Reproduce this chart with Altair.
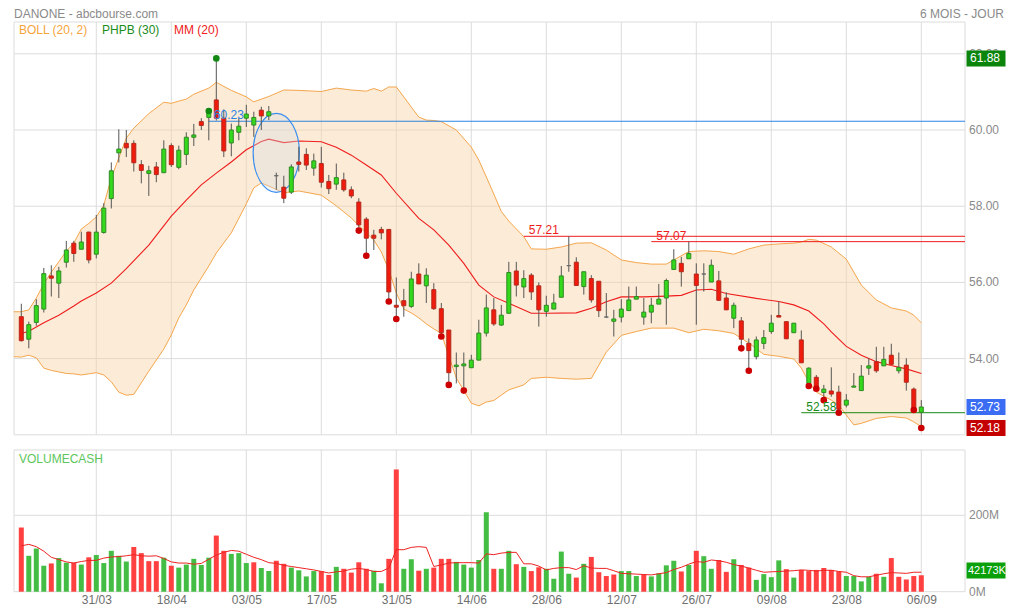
import altair as alt
import pandas as pd

FONT = "Liberation Sans"
W, H = 951, 570
XDOM = [-0.973, 125.827]
PDOM = [47.874, 62.835]
VDOM = [-0.785, 1491.4]
PRICE_PANEL = [52.0, 62.835]
VOL_PANEL = [0.0, 371.0]

TICK_IDX = [10, 20, 30, 40, 50, 60, 70, 80, 90, 100, 110, 120]
TICK_LABELS = ["31/03", "18/04", "03/05", "17/05", "31/05", "14/06",
               "28/06", "12/07", "26/07", "09/08", "23/08", "06/09"]
PRICE_TICKS = [54, 56, 58, 60, 62]
PRICE_GRID = [54, 56, 58, 60, 62]
VOL_TICKS = [0, 200]
VOL_GRID = [200]

OPEN = [55.10, 54.51, 54.95, 55.30, 56.17, 55.98, 56.53, 57.03, 56.87, 57.32,
        56.74, 57.31, 58.20, 59.40, 59.65, 59.65, 59.09, 58.86, 59.03, 58.88,
        59.59, 59.02, 59.36, 59.81, 60.22, 60.33, 60.79, 60.31, 59.66, 59.94,
        60.31, 60.13, 60.52, 60.37, 58.80, 58.50, 58.37, 59.16, 59.36, 59.00,
        59.12, 58.65, 58.58, 58.69, 58.43, 58.11, 57.66, 57.24, 57.39, 57.39,
        55.40, 55.52, 55.37, 56.22, 55.91, 55.81, 55.31, 54.75, 53.79, 53.81,
        53.76, 53.96, 54.67, 55.28, 54.88, 55.19, 56.30, 55.88, 56.19, 55.91,
        55.24, 55.30, 55.61, 56.44, 56.53, 55.89, 56.10, 56.03, 55.09, 54.98,
        55.09, 55.26, 55.56, 55.09, 55.22, 55.43, 55.59, 56.34, 56.50, 56.62,
        56.22, 56.22, 56.01, 56.04, 55.59, 55.06, 54.99, 54.40, 54.05, 54.40,
        54.71, 55.13, 54.97, 54.68, 54.49, 53.35, 53.51, 53.11, 53.15, 53.12,
        52.78, 53.25, 53.16, 53.75, 53.92, 53.81, 54.09, 53.68, 53.83, 53.20,
        52.59]
HIGH = [55.44, 54.97, 55.56, 56.38, 56.45, 56.41, 57.09, 57.09, 57.33, 57.33,
        57.77, 58.08, 59.15, 60.02, 60.00, 59.73, 59.21, 59.06, 59.16, 59.73,
        59.65, 59.59, 59.94, 60.16, 60.31, 60.50, 61.88, 60.54, 60.17, 60.31,
        60.66, 60.48, 60.61, 60.63, 58.88, 58.80, 59.10, 59.56, 59.52, 59.38,
        59.56, 58.82, 59.12, 58.88, 58.52, 58.21, 57.71, 57.38, 57.46, 57.39,
        56.13, 55.83, 56.28, 56.50, 56.37, 55.98, 55.46, 54.75, 54.16, 54.16,
        54.10, 55.02, 55.68, 55.59, 55.41, 56.54, 56.54, 56.32, 56.24, 56.00,
        55.65, 55.70, 56.43, 57.21, 56.66, 56.28, 56.19, 56.03, 55.72, 55.28,
        55.56, 55.89, 55.89, 55.59, 55.59, 55.96, 56.10, 56.87, 56.67, 57.07,
        56.50, 56.50, 56.60, 56.30, 55.74, 55.47, 55.09, 54.53, 54.58, 54.75,
        55.15, 55.50, 54.97, 54.93, 54.74, 53.77, 53.57, 53.31, 53.77, 53.29,
        53.07, 53.62, 53.83, 54.01, 54.31, 54.31, 54.39, 54.16, 54.01, 53.24,
        52.91]
LOW = [54.45, 54.27, 54.86, 55.21, 55.63, 55.59, 56.39, 56.54, 56.87, 56.50,
       56.63, 57.28, 57.94, 59.15, 59.29, 58.91, 58.60, 58.27, 58.63, 58.87,
       59.03, 58.97, 59.08, 59.58, 60.00, 59.73, 60.25, 59.29, 59.31, 59.73,
       60.08, 59.82, 60.00, 60.26, 58.43, 58.08, 58.32, 58.91, 58.95, 58.80,
       58.49, 58.32, 58.43, 58.38, 58.21, 57.36, 56.70, 56.85, 57.13, 55.50,
       55.04, 55.10, 55.33, 55.96, 55.46, 55.28, 54.58, 53.31, 53.35, 53.16,
       53.76, 53.96, 54.58, 54.86, 54.86, 55.19, 55.63, 55.59, 55.54, 54.84,
       55.10, 55.30, 55.61, 56.28, 55.92, 55.68, 55.47, 55.09, 55.07, 54.58,
       54.95, 55.26, 55.56, 54.89, 54.93, 55.43, 54.89, 56.34, 55.89, 56.62,
       54.89, 55.76, 56.01, 55.53, 55.28, 54.80, 54.27, 53.68, 53.98, 54.25,
       54.65, 55.09, 54.52, 54.68, 53.89, 53.28, 53.21, 52.91, 53.00, 52.58,
       52.72, 53.25, 53.16, 53.57, 53.63, 53.81, 53.85, 53.61, 53.16, 52.65,
       52.18]
CLOSE = [54.47, 54.89, 55.39, 56.23, 56.11, 56.30, 56.85, 56.76, 57.06, 56.59,
         57.32, 57.95, 58.93, 59.50, 59.53, 59.14, 58.94, 58.93, 58.83, 59.50,
         59.09, 59.47, 59.81, 59.87, 60.12, 60.48, 60.31, 59.45, 60.00, 60.10,
         60.42, 60.33, 60.37, 60.48, 58.80, 58.21, 59.03, 59.10, 59.08, 59.19,
         58.63, 58.46, 58.75, 58.43, 58.27, 57.51, 57.16, 57.16, 57.30, 55.75,
         55.35, 55.39, 56.09, 55.96, 56.19, 55.31, 54.68, 53.63, 53.83, 53.86,
         53.96, 54.67, 55.33, 54.91, 55.14, 56.26, 55.93, 56.10, 55.75, 55.28,
         55.40, 55.46, 56.17, 56.44, 55.92, 56.28, 55.54, 55.26, 55.09, 55.04,
         55.30, 55.54, 55.63, 55.22, 55.40, 55.56, 56.05, 56.59, 56.28, 56.76,
         55.92, 56.22, 56.45, 55.53, 55.28, 55.40, 54.51, 54.21, 54.49, 54.55,
         54.93, 55.09, 54.52, 54.93, 53.89, 53.75, 53.22, 53.20, 53.07, 52.67,
         52.91, 53.28, 53.54, 53.81, 53.68, 53.98, 53.85, 53.77, 53.38, 52.69,
         52.73]

VOLUME_M = [168, 94, 113, 68, 74, 88, 76, 76, 71, 90,
            96, 75, 107, 94, 79, 117, 101, 80, 80, 89,
            68, 63, 71, 86, 70, 89, 147, 107, 99, 101,
            75, 77, 62, 54, 81, 73, 63, 56, 40, 54,
            54, 44, 65, 60, 50, 77, 60, 55, 22, 86,
            320, 60, 85, 55, 60, 63, 86, 86, 78, 71,
            63, 83, 208, 60, 60, 107, 72, 65, 54, 64,
            60, 34, 105, 47, 37, 73, 91, 51, 41, 45,
            54, 54, 41, 45, 40, 48, 69, 81, 53, 70,
            107, 93, 60, 83, 52, 85, 70, 63, 31, 46,
            38, 82, 59, 37, 57, 54, 57, 62, 57, 53,
            41, 41, 27, 39, 47, 39, 88, 39, 32, 41,
            43]
VOL_DIR = ("RGGGRGGRGR" "GGGGGRRRRG" "RGGGGGRRGG" "GRGGRRGGGG" "RRGRRRRGGR"
           "RGGRGRRRGG" "GGGRGGRGRR" "GGGGRGRRRR" "GGGRGGGGRG" "RGGRRGRRGG"
           "GGRGRRRRRR" "GGGGRGRRRR" "R")
VOLMA_M = [120, 124, 118, 106, 90, 84, 78, 75, 79, 82,
           82, 88, 91, 92, 94, 97, 94, 93, 94, 87,
           78, 75, 75, 72, 74, 85, 96, 103, 108, 106,
           98, 90, 84, 76, 74, 69, 66, 63, 60, 57,
           53, 49, 52, 54, 59, 61, 58, 53, 53, 62,
           110, 110, 116, 118, 116, 66, 70, 75, 76, 76,
           76, 75, 99, 97, 101, 103, 103, 73, 73, 67,
           57, 61, 63, 63, 58, 68, 62, 61, 61, 55,
           48, 47, 46, 45, 44, 47, 50, 58, 64, 72,
           79, 77, 83, 81, 77, 71, 67, 62, 56, 51,
           52, 53, 54, 55, 57, 56, 54, 56, 56, 53,
           51, 42, 39, 39, 43, 47, 50, 49, 48, 51,
           51]

BB_IDX = [-1, 0, 1, 2, 3, 4, 5, 6, 7, 8, 9, 10, 11, 12, 13, 14, 15, 17, 19, 20,
          21, 22, 23, 25, 26, 28, 30, 31, 32, 33, 35, 37, 40, 42, 44, 46, 47, 48, 49, 50,
          51, 52, 53, 54, 55, 56, 58, 60, 61, 62, 63, 64, 65, 67, 68, 70, 72, 74, 76, 78,
          80, 82, 84, 86, 87, 89, 91, 93, 95, 97, 99, 101, 103, 104, 105, 106, 108, 109, 110, 111,
          112, 114, 116, 118, 119, 120]
BB_UPPER = [55.23, 55.23, 55.28, 55.59, 55.96, 56.27, 56.54, 56.82, 57.03, 57.40,
            57.55, 57.72, 58.03, 58.74, 59.27, 59.79, 60.05, 60.43, 60.73, 60.70,
            60.76, 60.81, 60.94, 61.10, 61.25, 61.04, 60.87, 60.74, 60.81, 60.88,
            61.05, 61.04, 61.01, 61.10, 61.05, 61.02, 61.09, 61.02, 61.13, 61.13,
            60.87, 60.60, 60.34, 60.26, 60.25, 60.22, 60.00, 59.55, 59.21, 58.77,
            58.32, 57.86, 57.61, 57.20, 56.88, 56.87, 56.93, 57.03, 57.04, 56.85,
            56.59, 56.52, 56.48, 56.48, 56.59, 56.81, 56.83, 56.81, 56.74, 56.88,
            56.98, 57.01, 57.03, 57.06, 57.13, 57.11, 56.93, 56.77, 56.61, 56.27,
            55.93, 55.54, 55.33, 55.25, 55.14, 54.94]
BB_LOWER = [54.05, 54.04, 54.09, 54.02, 53.75, 53.69, 53.65, 53.61, 53.60, 53.57,
            53.60, 53.63, 53.57, 53.39, 53.12, 53.04, 53.06, 53.67, 54.25, 54.62,
            55.07, 55.41, 55.80, 56.43, 56.77, 57.30, 58.06, 58.48, 58.61, 58.53,
            58.35, 58.40, 58.29, 58.01, 57.69, 57.30, 57.11, 56.80, 56.33, 55.72,
            55.30, 55.20, 55.07, 54.91, 54.78, 54.66, 53.49, 52.83, 52.76, 52.86,
            52.90, 53.04, 53.18, 53.31, 53.48, 53.51, 53.48, 53.46, 53.48, 54.17,
            54.61, 54.71, 54.80, 54.80, 54.80, 54.68, 54.77, 54.73, 54.66, 54.41,
            54.11, 54.06, 53.99, 53.75, 53.39, 53.12, 52.91, 52.78, 52.52, 52.26,
            52.30, 52.43, 52.48, 52.44, 52.34, 52.21]

MM_IDX = [0, 1, 3, 5, 7, 8, 10, 12, 14, 17, 20, 22, 24, 26, 28, 30, 32, 33, 35, 37,
          40, 42, 44, 46, 48, 50, 53, 55, 57, 59, 61, 63, 65, 68, 70, 74, 76, 78, 80, 83,
          86, 88, 90, 92, 94, 98, 101, 103, 105, 107, 108, 110, 112, 114, 116, 118, 120]
MM_VAL = [54.66, 54.72, 54.94, 55.14, 55.38, 55.51, 55.72, 55.98, 56.36, 56.98,
          57.74, 58.16, 58.56, 58.87, 59.16, 59.48, 59.70, 59.76, 59.67, 59.71,
          59.69, 59.55, 59.34, 59.08, 58.82, 58.34, 57.68, 57.38, 56.98, 56.50,
          55.93, 55.62, 55.45, 55.19, 55.19, 55.20, 55.32, 55.49, 55.62, 55.62,
          55.64, 55.66, 55.80, 55.82, 55.71, 55.58, 55.50, 55.41, 55.25, 54.91,
          54.70, 54.32, 54.09, 53.92, 53.82, 53.73, 53.61]

LOW_DOTS = [45, 46, 49, 50, 56, 57, 59, 96, 97, 105, 106, 107, 109, 119, 120]
HIGH_DOTS = [25, 26]

LEVEL_VALUES = [60.23, 57.21, 57.07, 52.58]
LEVEL_START = [25, 67, 84, 104]
LEVEL_COLORS = ["#2b84e2", "#ee1c1c", "#ee1c1c", "#178a17"]

PRICE_TAGS = [61.88, 52.73, 52.18]
PRICE_TAG_COLORS = ["#0b840b", "#3a6cf4", "#c40000"]
VOL_TAG = 42.173
VOL_TAG_TEXT = "42173K"

ELLIPSE_AT = [34, 59.40]

GRID = "#dcdcdc"
AXIS_TEXT = "#8a8a8a"
ELLIPSE_PATH = "M-0.586,0A0.586,1,0,1,0,0.586,0A0.586,1,0,1,0,-0.586,0Z"
TAG_PATH = "M-1,-0.41L1,-0.41L1,0.41L-1,0.41Z"
TAG_SIZE = 39 * 39
TAG_CENTER = W + 21
RIGHT_PAD = 41

# ---------------- data frames ----------------
n = len(OPEN)
candles = pd.DataFrame({"i": list(range(n)), "o": OPEN, "h": HIGH, "l": LOW, "c": CLOSE})
fills, strokes = [], []
for o, c in zip(OPEN, CLOSE):
    if c > o:
        fills.append("#33d91a"); strokes.append("#2f8a25")
    elif c < o:
        fills.append("#f01b0c"); strokes.append("#b3281c")
    else:
        fills.append("#6a6a6a"); strokes.append("#6a6a6a")
candles["fill"] = fills
candles["stroke"] = strokes

vol = pd.DataFrame({"i": list(range(n)), "v": VOLUME_M, "zero": [0] * n,
                    "color": ["#43bd43" if d == "G" else "#ff4040" for d in VOL_DIR]})
volma = pd.DataFrame({"i": list(range(n)), "v": VOLMA_M})
bands = pd.DataFrame({"i": BB_IDX, "up": BB_UPPER, "lo": BB_LOWER})
mm = pd.DataFrame({"i": MM_IDX, "v": MM_VAL})
dots = pd.DataFrame({
    "i": LOW_DOTS + HIGH_DOTS,
    "p": [LOW[k] for k in LOW_DOTS] + [HIGH[k] for k in HIGH_DOTS],
    "color": ["#cc0000"] * len(LOW_DOTS) + ["#118811"] * len(HIGH_DOTS),
})
levels = pd.DataFrame({"start": LEVEL_START, "end": [XDOM[1]] * len(LEVEL_START),
                       "v": LEVEL_VALUES, "color": LEVEL_COLORS,
                       "label": [f"{v:.2f}" for v in LEVEL_VALUES]})
tags = pd.DataFrame({"v": PRICE_TAGS, "color": PRICE_TAG_COLORS,
                     "label": [f"{v:.2f}" for v in PRICE_TAGS]})
vtag = pd.DataFrame({"v": [VOL_TAG], "label": [VOL_TAG_TEXT]})
pticks = pd.DataFrame({"v": PRICE_TICKS, "label": [f"{v:.2f}" for v in PRICE_TICKS]})
pgridlines = pd.DataFrame({"v": PRICE_GRID, "x1": [XDOM[0]] * len(PRICE_GRID),
                           "x2": [XDOM[1]] * len(PRICE_GRID)})
vticks = pd.DataFrame({"v": VOL_TICKS, "label": [f"{v}M" for v in VOL_TICKS]})
vgridlines = pd.DataFrame({"v": VOL_GRID, "x1": [XDOM[0]] * len(VOL_GRID),
                           "x2": [XDOM[1]] * len(VOL_GRID)})

# ---------------- scales / axes ----------------
xscale = alt.Scale(domain=XDOM, nice=False, zero=False, padding=0)
label_arr = "[" + ",".join(f"'{t}'" for t in TICK_LABELS) + "]"
xaxis = alt.Axis(values=TICK_IDX, labelExpr=f"{label_arr}[round(datum.value / 10) - 1]",
                 grid=False, ticks=False, domain=False, labelColor="#6e6e6e",
                 labelFontSize=12, labelFont=FONT, labelPadding=2, title=None)
pscale = alt.Scale(domain=PDOM, nice=False, zero=False, padding=0)
vscale = alt.Scale(domain=VDOM, nice=False, zero=False, padding=0)


def X(f):
    return alt.X(f, type="quantitative", scale=xscale, axis=xaxis)


def PY(f):
    return alt.Y(f, type="quantitative", scale=pscale, axis=None)


def VY(f):
    return alt.Y(f, type="quantitative", scale=vscale, axis=None)


# ---------------- price panel ----------------
pgrid_v = alt.Chart(pd.DataFrame({"i": TICK_IDX, "y1": [PRICE_PANEL[0]] * len(TICK_IDX),
                                  "y2": [PRICE_PANEL[1]] * len(TICK_IDX)})).mark_rule(
    color=GRID, strokeWidth=1).encode(x=X("i"), y=PY("y1"), y2="y2")
pgrid_h = alt.Chart(pgridlines).mark_rule(color=GRID, strokeWidth=1).encode(
    x=X("x1"), x2="x2", y=PY("v"))
pframe = alt.Chart(pd.DataFrame({"x1": [XDOM[0]], "x2": [XDOM[1]], "y1": [PRICE_PANEL[0]],
                                 "y2": [PRICE_PANEL[1]]})).mark_rect(
    filled=False, color=GRID, strokeWidth=1).encode(x=X("x1"), x2="x2", y=PY("y1"), y2="y2")
plabels = alt.Chart(pticks).mark_text(align="left", baseline="middle", color=AXIS_TEXT,
                                      fontSize=12, font=FONT).encode(
    x=alt.value(W + 4), y=PY("v"), text="label:N")
band_area = alt.Chart(bands).mark_area(color="#f8d3a4", opacity=0.45).encode(
    x=X("i"), y=PY("up"), y2="lo")
band_up = alt.Chart(bands).mark_line(color="#f5a64c", strokeWidth=1).encode(x=X("i"), y=PY("up"))
band_lo = alt.Chart(bands).mark_line(color="#f5a64c", strokeWidth=1).encode(x=X("i"), y=PY("lo"))
mm_line = alt.Chart(mm).mark_line(color="#ee1c1c", strokeWidth=1.1).encode(x=X("i"), y=PY("v"))
ellipse = alt.Chart(pd.DataFrame({"i": [ELLIPSE_AT[0]], "p": [ELLIPSE_AT[1]]})).mark_point(
    shape=ELLIPSE_PATH, size=6241, filled=True, fill="#d4dde6", fillOpacity=0.35,
    stroke="#3a8ef0", strokeWidth=1.2, strokeOpacity=1, opacity=1).encode(x=X("i"), y=PY("p"))
level_rules = alt.Chart(levels).mark_rule(strokeWidth=1).encode(
    x=X("start"), x2="end", y=PY("v"), color=alt.Color("color:N", scale=None))
wicks = alt.Chart(candles).mark_rule(color="#555555", strokeWidth=1).encode(
    x=X("i"), y=PY("l"), y2="h")
bodies = alt.Chart(candles).mark_bar(width=4, strokeWidth=1).encode(
    x=X("i"), y=PY("o"), y2="c",
    fill=alt.Fill("fill:N", scale=None), stroke=alt.Stroke("stroke:N", scale=None))
dot_marks = alt.Chart(dots).mark_circle(size=44, opacity=1).encode(
    x=X("i"), y=PY("p"), color=alt.Color("color:N", scale=None))
level_labels = alt.Chart(levels).mark_text(
    align="left", baseline="alphabetic", dx=5, dy=-2, fontSize=12, font=FONT).encode(
    x=X("start"), y=PY("v"), text="label:N", color=alt.Color("color:N", scale=None))
tag_boxes = alt.Chart(tags).mark_point(shape=TAG_PATH, size=TAG_SIZE, filled=True, opacity=1,
                                       strokeWidth=0).encode(
    x=alt.value(TAG_CENTER), y=PY("v"), color=alt.Color("color:N", scale=None))
tag_text = alt.Chart(tags).mark_text(align="left", baseline="middle", color="white",
                                     fontSize=12, font=FONT).encode(
    x=alt.value(W + 5), y=PY("v"), text="label:N")

price = alt.layer(pgrid_v, pgrid_h, pframe, plabels, band_area, band_up, band_lo, mm_line,
                  ellipse, level_rules, wicks, bodies, dot_marks, level_labels,
                  tag_boxes, tag_text)

# ---------------- volume panel ----------------
vgrid_v = alt.Chart(pd.DataFrame({"i": TICK_IDX, "y1": [VOL_PANEL[0]] * len(TICK_IDX),
                                  "y2": [VOL_PANEL[1]] * len(TICK_IDX)})).mark_rule(
    color=GRID, strokeWidth=1).encode(x=X("i"), y=VY("y1"), y2="y2")
vgrid_h = alt.Chart(vgridlines).mark_rule(color=GRID, strokeWidth=1).encode(
    x=X("x1"), x2="x2", y=VY("v"))
vframe = alt.Chart(pd.DataFrame({"x1": [XDOM[0]], "x2": [XDOM[1]], "y1": [VOL_PANEL[0]],
                                 "y2": [VOL_PANEL[1]]})).mark_rect(
    filled=False, color=GRID, strokeWidth=1).encode(x=X("x1"), x2="x2", y=VY("y1"), y2="y2")
vlabels = alt.Chart(vticks).mark_text(align="left", baseline="middle", color=AXIS_TEXT,
                                      fontSize=12, font=FONT).encode(
    x=alt.value(W + 4), y=VY("v"), text="label:N")
vol_bars = alt.Chart(vol).mark_bar(width=5).encode(
    x=X("i"), y=VY("v"), y2="zero", color=alt.Color("color:N", scale=None))
volma_line = alt.Chart(volma).mark_line(color="#ee2222", strokeWidth=1).encode(
    x=X("i"), y=VY("v"))
vtag_box = alt.Chart(vtag).mark_point(shape=TAG_PATH, size=TAG_SIZE, filled=True, opacity=1,
                                      strokeWidth=0, color="#0aa00a", yOffset=-5).encode(
    x=alt.value(TAG_CENTER), y=VY("v"))
vtag_text = alt.Chart(vtag).mark_text(align="left", baseline="middle", color="white",
                                      fontSize=11, font=FONT, dy=-5).encode(
    x=alt.value(W + 3), y=VY("v"), text="label:N")

volume = alt.layer(vgrid_v, vgrid_h, vframe, vlabels, vol_bars, volma_line, vtag_box, vtag_text)


# ---------------- annotations ----------------
def note(text, x, y, color, align="left", baseline="middle"):
    return alt.Chart(pd.DataFrame({"t": [text]})).mark_text(
        align=align, baseline=baseline, color=color, fontSize=12, font=FONT).encode(
        x=alt.value(x), y=alt.value(y), text="t:N")


notes = [
    note("DANONE - abcbourse.com", 0, -4.5, "#8a8a8a", baseline="alphabetic"),
    note("6 MOIS - JOUR", W + RIGHT_PAD - 2, -4.5, "#8a8a8a", align="right",
         baseline="alphabetic"),
    note("BOLL (20, 2)", 5, 7.5, "#f5a53c"),
    note("PHPB (30)", 88, 7.5, "#1b8c1b"),
    note("MM (20)", 160, 7.5, "#ee2020"),
    note("VOLUMECASH", 5, 436.5, "#5cc65c"),
]

chart = alt.layer(price, volume, *notes).resolve_scale(y="independent").properties(
    width=W, height=H,
    padding={"left": 6, "top": 14, "right": RIGHT_PAD, "bottom": 14},
    autosize=alt.AutoSizeParams(type="none"),
).configure_view(strokeWidth=0)

chart.save("out.html", embed_options={"renderer": "svg", "actions": False})
